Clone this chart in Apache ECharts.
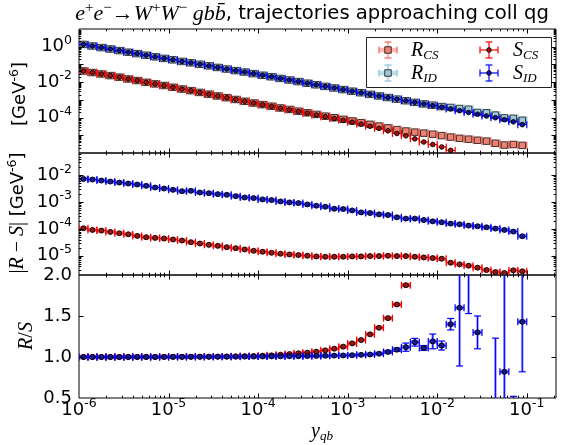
<!DOCTYPE html>
<html><head><meta charset="utf-8">
<script src="https://cdn.jsdelivr.net/npm/echarts@6/dist/echarts.min.js"></script>
<style>html,body{margin:0;padding:0;background:#fff}#c{width:563px;height:445px}</style>
</head><body><div id="c"></div>
<script>
// ---------------- data ----------------
const xCenters = [
 1.122e-6,1.413e-6,1.778e-6,2.239e-6,2.818e-6,3.548e-6,4.467e-6,5.623e-6,7.079e-6,8.913e-6,
 1.122e-5,1.413e-5,1.778e-5,2.239e-5,2.818e-5,3.548e-5,4.467e-5,5.623e-5,7.079e-5,8.913e-5,
 1.122e-4,1.413e-4,1.778e-4,2.239e-4,2.818e-4,3.548e-4,4.467e-4,5.623e-4,7.079e-4,8.913e-4,
 1.122e-3,1.413e-3,1.778e-3,2.239e-3,2.818e-3,3.548e-3,4.467e-3,5.623e-3,7.079e-3,8.913e-3,
 1.122e-2,1.413e-2,1.778e-2,2.239e-2,2.818e-2,3.548e-2,4.467e-2,5.623e-2,7.079e-2,8.913e-2];
const halfBinDecades = 0.05;

const sCS = [0.0427,0.0347,0.0288,0.0234,0.0191,0.0151,0.0123,9.77e-3,7.94e-3,6.46e-3,
 5.13e-3,4.07e-3,3.31e-3,2.63e-3,2.09e-3,1.66e-3,1.32e-3,1.05e-3,8.32e-4,6.61e-4,
 5.25e-4,4.27e-4,3.39e-4,2.75e-4,2.19e-4,1.78e-4,1.41e-4,1.12e-4,8.91e-5,7.08e-5,
 5.50e-5,4.27e-5,3.24e-5,2.45e-5,1.78e-5,1.26e-5,9.33e-6,6.31e-6,4.17e-6,3.02e-6,
 2.19e-6,1.41e-6,7.94e-7,5.01e-7,3.16e-7,2.0e-7,1.26e-7,7.94e-8,5.0e-8,3.16e-8];
const rCS = [0.0427,0.0347,0.0288,0.0234,0.0191,0.0151,0.0123,9.77e-3,7.94e-3,6.46e-3,
 5.13e-3,4.07e-3,3.31e-3,2.63e-3,2.09e-3,1.66e-3,1.32e-3,1.05e-3,8.32e-4,6.61e-4,
 5.37e-4,4.37e-4,3.47e-4,2.88e-4,2.29e-4,1.86e-4,1.51e-4,1.20e-4,9.77e-5,7.94e-5,
 6.46e-5,5.13e-5,4.17e-5,3.31e-5,2.63e-5,2.09e-5,1.74e-5,1.51e-5,1.32e-5,1.15e-5,
 9.55e-6,7.94e-6,6.76e-6,6.03e-6,5.25e-6,4.68e-6,3.55e-6,2.82e-6,3.02e-6,2.69e-6];
const sID = [1.35,1.10,0.891,0.741,0.603,0.490,0.407,0.331,0.269,0.219,
 0.182,0.148,0.123,0.102,0.0832,0.0676,0.0550,0.0447,0.0372,0.0302,
 0.0245,0.0200,0.0162,0.0132,0.0107,8.71e-3,7.08e-3,5.75e-3,4.68e-3,3.80e-3,
 3.09e-3,2.51e-3,2.04e-3,1.66e-3,1.35e-3,1.10e-3,8.91e-4,7.24e-4,5.89e-4,4.79e-4,
 3.89e-4,3.09e-4,2.45e-4,1.95e-4,1.55e-4,1.23e-4,9.77e-5,7.59e-5,5.75e-5,3.98e-5];
const rID = [1.35,1.10,0.891,0.741,0.603,0.490,0.407,0.331,0.269,0.219,
 0.182,0.148,0.123,0.102,0.0832,0.0676,0.0550,0.0447,0.0372,0.0302,
 0.0245,0.0200,0.0162,0.0132,0.0107,8.71e-3,7.08e-3,5.75e-3,4.68e-3,3.80e-3,
 3.09e-3,2.51e-3,2.04e-3,1.66e-3,1.35e-3,1.10e-3,8.91e-4,7.24e-4,5.89e-4,5.01e-4,
 4.17e-4,3.72e-4,3.24e-4,2.95e-4,1.95e-4,1.86e-4,1.38e-4,9.55e-5,9.12e-5,7.08e-5];

const dCS = [1.06e-4,9.18e-5,8.67e-5,7.74e-5,6.91e-5,6.34e-5,5.51e-5,4.91e-5,4.64e-5,4.38e-5,
 4.03e-5,3.70e-5,3.21e-5,2.86e-5,2.55e-5,2.34e-5,2.09e-5,1.92e-5,1.72e-5,1.53e-5,
 1.41e-5,1.29e-5,1.19e-5,1.12e-5,1.06e-5,1.00e-5,9.45e-6,9.18e-6,9.18e-6,9.18e-6,
 9.45e-6,9.45e-6,9.73e-6,9.73e-6,1.00e-5,9.73e-6,9.73e-6,9.18e-6,8.67e-6,8.20e-6,
 7.74e-6,5.51e-6,4.78e-6,4.26e-6,3.60e-6,2.94e-6,2.48e-6,2.28e-6,2.86e-6,2.63e-6];
const dID = [7.31e-3,6.92e-3,6.34e-3,5.82e-3,5.35e-3,4.91e-3,4.51e-3,4.03e-3,3.49e-3,3.21e-3,
 2.86e-3,2.55e-3,2.63e-3,2.28e-3,2.15e-3,1.98e-3,1.87e-3,1.67e-3,1.49e-3,1.41e-3,
 1.26e-3,1.19e-3,1.06e-3,9.72e-4,9.18e-4,8.20e-4,7.31e-4,6.71e-4,5.66e-4,5.51e-4,
 4.91e-4,4.14e-4,3.92e-4,3.49e-4,3.30e-4,2.71e-4,2.42e-4,2.42e-4,2.15e-4,1.92e-4,
 1.77e-4,1.58e-4,1.49e-4,1.33e-4,1.26e-4,1.15e-4,1.03e-4,9.18e-5,7.96e-5,5.35e-5];

const ratioCS = [1.000,1.000,1.000,1.000,1.000,1.001,1.001,1.001,1.001,1.002,
 1.002,1.002,1.003,1.003,1.004,1.005,1.006,1.008,1.010,1.012,
 1.016,1.020,1.028,1.036,1.045,1.053,1.065,1.081,1.101,1.126,
 1.166,1.207,1.276,1.357,1.474,1.640,1.876,2.30,2.90,3.50,
 4.20,5.30,7.50,10.5,14.0,18.0,22.0,26.0,30.0,34.0];
const ratioCSErr = [0.002,0.002,0.002,0.002,0.002,0.002,0.002,0.002,0.002,0.002,
 0.002,0.002,0.002,0.002,0.002,0.002,0.002,0.002,0.002,0.002,
 0.003,0.003,0.003,0.003,0.003,0.003,0.003,0.004,0.004,0.004,
 0.005,0.005,0.006,0.006,0.008,0.010,0.015,0.03,0.05,0.08,
 0.1,0.2,0.4,0.8,1.0,1.5,2.0,2.5,3.0,3.5];
const ratioID = [1.000,1.000,1.000,1.000,1.000,1.000,1.001,1.001,1.001,1.001,
 1.002,1.002,1.002,1.003,1.003,1.003,1.004,1.004,1.005,1.005,
 1.006,1.007,1.008,1.009,1.010,1.011,1.013,1.015,1.017,1.019,
 1.022,1.026,1.031,1.040,1.062,1.089,1.120,1.180,1.110,1.190,
 1.140,1.400,1.600,2.300,1.300,2.600,0.200,0.820,0.300,1.430];
const ratioIDErr = [0.003,0.003,0.003,0.003,0.003,0.003,0.003,0.003,0.003,0.003,
 0.003,0.003,0.003,0.003,0.003,0.003,0.003,0.003,0.003,0.003,
 0.003,0.003,0.003,0.003,0.003,0.003,0.003,0.003,0.003,0.004,
 0.005,0.005,0.006,0.008,0.012,0.020,0.050,0.047,0.030,0.090,
 0.055,0.070,0.710,0.770,0.200,0.400,1.030,1.400,0.220,0.610];

const xTickExps = [-6,-5,-4,-3,-2,-1];
const topLabelExps = [0,-2,-4];
const midLabelExps = [-2,-3,-4,-5];
const ratioTickLabels = [0.5,1.0,1.5,2.0];

// ---------------- layout / style ----------------
const SANS = 'DejaVu Sans', SERIF = 'Liberation Serif';
const X_MIN = 1e-6, X_MAX = 0.212;
const yRanges = [[1e-6, 10], [1.92e-6, 0.0676], [0.5, 2.0]];
const gridPos = [
  {left:79, right:7, top:29, height:124},
  {left:79, right:7, top:153, height:122},
  {left:79, right:7, top:275, height:123}];

const ST = {
  rCS:{thick:'rgba(250,128,114,0.55)',thickW:4.5,thin:null,thinW:1,cap:'rgba(240,110,100,0.85)',capW:1.5,capLen:4,marker:'rect',size:6.5,fill:'#f08070',stroke:'#222'},
  sCS:{thick:null,thickW:0,thin:'#ff0000',thinW:1.2,cap:'#ff0000',capW:1.2,capLen:3.5,marker:'circle',size:4.6,fill:'#a01010',stroke:'#000'},
  rID:{thick:'rgba(173,216,230,0.85)',thickW:4.5,thin:null,thinW:1,cap:'rgba(150,200,220,0.9)',capW:1.5,capLen:4,marker:'rect',size:6.5,fill:'#9cc8d8',stroke:'#222'},
  sID:{thick:null,thickW:0,thin:'#0000ff',thinW:1.2,cap:'#0000ff',capW:1.2,capLen:3.5,marker:'circle',size:4.6,fill:'#1010a0',stroke:'#000'},
  dCS:{thick:'rgba(255,0,0,0.42)',thickW:4.5,thin:'#ff0000',thinW:1,cap:'#ff0000',capW:1.2,capLen:3.5,marker:'circle',size:5,fill:'#901818',stroke:'#000'},
  dID:{thick:'rgba(0,0,255,0.45)',thickW:4.5,thin:'#0000ff',thinW:1,cap:'#0000ff',capW:1.2,capLen:3.5,marker:'circle',size:5,fill:'#181890',stroke:'#000'}
};

function seg(x1,y1,x2,y2,color,w,z){const o={type:'line',silent:true,shape:{x1:x1,y1:y1,x2:x2,y2:y2},style:{stroke:color,lineWidth:w,lineCap:'butt'}}; if(z!=null)o.z=z; return o;}
function markerEl(st,cx,cy,z){
  let o;
  if(st.marker==='rect'){const s=st.size;o={type:'rect',silent:true,shape:{x:cx-s/2,y:cy-s/2,width:s,height:s},style:{fill:st.fill,stroke:st.stroke,lineWidth:0.9}};}
  else o={type:'circle',silent:true,shape:{cx:cx,cy:cy,r:st.size/2},style:{fill:st.fill,stroke:st.stroke,lineWidth:0.9}};
  if(z!=null)o.z=z; return o;
}

function makeRender(st, logY){
  return function(params, api){
    const cs = params.coordSys;
    const T = cs.y, B = cs.y + cs.height;
    const x = api.value(0), y = api.value(1), e = api.value(2), lo = api.value(3), hi = api.value(4);
    const kids = [];
    const c = api.coord([x, y]);
    const xl = api.coord([lo, y])[0], xh = api.coord([hi, y])[0];
    if (e > 0) {
      const yt = api.coord([x, y + e])[1];
      const yb = (!logY || y - e > 0) ? api.coord([x, y - e])[1] : B + 50;
      const a = Math.max(yt, T), b = Math.min(yb, B);
      if (b > a) {
        if (st.thick) kids.push(seg(c[0], a, c[0], b, st.thick, 2.5));
        if (st.thin) kids.push(seg(c[0], a, c[0], b, st.thin, st.thinW));
      }
      if (yt >= T && yt <= B) kids.push(seg(c[0]-st.capLen, yt, c[0]+st.capLen, yt, st.cap, st.capW));
      if (yb >= T && yb <= B) kids.push(seg(c[0]-st.capLen, yb, c[0]+st.capLen, yb, st.cap, st.capW));
    }
    if (c[1] >= T - 1 && c[1] <= B + 1) {
      if (st.thick) kids.push(seg(xl, c[1], xh, c[1], st.thick, st.thickW));
      if (st.thin) kids.push(seg(xl, c[1], xh, c[1], st.thin, st.thinW));
      kids.push(seg(xl, c[1]-st.capLen, xl, c[1]+st.capLen, st.cap, st.capW));
      kids.push(seg(xh, c[1]-st.capLen, xh, c[1]+st.capLen, st.cap, st.capW));
      kids.push(markerEl(st, c[0], c[1]));
    }
    return {type:'group', children:kids};
  };
}

function errSeries(g, vals, errs, st, logY){
  const f = Math.pow(10, halfBinDecades);
  const data = xCenters.map((x,i)=>[x, vals[i], errs ? errs[i] : 0, x/f, x*f]);
  return {type:'custom', xAxisIndex:g, yAxisIndex:g, data:data, encode:{x:0,y:1},
    renderItem:makeRender(st, logY), clip:true, silent:true, animation:false, z:3};
}

// ticks (major + minor, inward, all four sides)
function tickSeries(g, yTicks, yMinor){
  const yRef = yRanges[g][0]*1.0001, xRef = X_MIN*1.0001;
  const data = [];
  xTickExps.forEach(k=>{ data.push([Math.pow(10,k), yRef, 0, 1]);
    for(let m=2;m<=9;m++){const v=m*Math.pow(10,k); if(v<X_MAX) data.push([v, yRef, 0, 0]);} });
  yTicks.forEach(v=>data.push([xRef, v, 1, 1]));
  yMinor.forEach(v=>data.push([xRef, v, 1, 0]));
  return {type:'custom', xAxisIndex:g, yAxisIndex:g, data:data, encode:{x:0,y:1}, silent:true, animation:false, z:5,
    renderItem:function(params, api){
      const cs = params.coordSys; const L=cs.x, R=cs.x+cs.width, T=cs.y, B=cs.y+cs.height;
      const p = api.coord([api.value(0), api.value(1)]);
      const len = api.value(3) ? 4.5 : 2.3;
      if (api.value(2) === 0) {
        if (p[0] <= L+0.5 || p[0] >= R-0.5) return null;
        const xx = Math.round(p[0])+0.5;
        return {type:'group',children:[seg(xx,B,xx,B-len,'#000',1), seg(xx,T,xx,T+len,'#000',1)]};
      }
      if (p[1] <= T+0.5 || p[1] >= B-0.5) return null;
      const yy = Math.round(p[1])+0.5;
      return {type:'group',children:[seg(L,yy,L+len,yy,'#000',1), seg(R,yy,R-len,yy,'#000',1)]};
    }};
}
const minorFor = (kmin,kmax,lo,hi)=>{const out=[];for(let k=kmin;k<=kmax;k++)for(let m=2;m<=9;m++){const v=m*Math.pow(10,k);if(v>lo&&v<hi)out.push(v);}return out;};
const decades = (kmin,kmax)=>{const o=[];for(let k=kmin;k<=kmax;k++)o.push(Math.pow(10,k));return o;};

const supRich = {
  b:{fontFamily:SANS,fontSize:18,lineHeight:20,color:'#000'},
  s:{fontFamily:SANS,fontSize:12.5,lineHeight:13,padding:[0,0,12,0],color:'#000'}
};
function powLabel(allowed){
  return function(v){
    const l = Math.log10(v), k = Math.round(l);
    if (Math.abs(l-k) > 1e-6 || allowed.indexOf(k) < 0) return '';
    return '{b|10}{s|' + (k<0?'-':'') + Math.abs(k) + '}';
  };
}

const xAxes = [0,1,2].map(g=>({type:'log', logBase:10, gridIndex:g, min:X_MIN, max:X_MAX,
  axisLine:{show:false}, axisTick:{show:false}, splitLine:{show:false}, minorTick:{show:false},
  axisLabel:{show:g===2, interval:0, margin:2, formatter:powLabel(xTickExps), rich:supRich}}));
const yAxes = [
  {type:'log', logBase:10, gridIndex:0, min:yRanges[0][0], max:yRanges[0][1],
   axisLine:{show:false}, axisTick:{show:false}, splitLine:{show:false},
   axisLabel:{interval:0, margin:7, formatter:powLabel(topLabelExps), rich:supRich}},
  {type:'log', logBase:10, gridIndex:1, min:yRanges[1][0], max:yRanges[1][1],
   axisLine:{show:false}, axisTick:{show:false}, splitLine:{show:false},
   axisLabel:{interval:0, margin:7, formatter:powLabel(midLabelExps), rich:supRich}},
  {type:'value', gridIndex:2, min:yRanges[2][0], max:yRanges[2][1], interval:0.5,
   axisLine:{show:false}, axisTick:{show:false}, splitLine:{show:false},
   axisLabel:{interval:0, margin:7, fontFamily:SANS, fontSize:18, color:'#000',
     formatter:v=>ratioTickLabels.some(t=>Math.abs(t-v)<1e-9)?v.toFixed(1):''}}
];

const series = [
  errSeries(0, rCS, null, ST.rCS, true),
  errSeries(0, sCS, null, ST.sCS, true),
  errSeries(0, rID, null, ST.rID, true),
  errSeries(0, sID, null, ST.sID, true),
  errSeries(1, dCS, null, ST.dCS, true),
  errSeries(1, dID, null, ST.dID, true),
  errSeries(2, ratioCS, ratioCSErr, ST.dCS, false),
  errSeries(2, ratioID, ratioIDErr, ST.dID, false),
  tickSeries(0, decades(-5,0), minorFor(-6,0,1e-6,10)),
  tickSeries(1, decades(-5,-2), minorFor(-6,-2,yRanges[1][0],yRanges[1][1])),
  tickSeries(2, [1.0,1.5], [])
];

// ---------------- text / legend graphics ----------------
const mathRich = {
  i:{fontFamily:SERIF,fontStyle:'italic',fontSize:20,lineHeight:24,color:'#000'},
  I:{fontFamily:SERIF,fontStyle:'italic',fontSize:22,lineHeight:26,color:'#000'},
  u:{fontFamily:SERIF,fontSize:20,lineHeight:24,color:'#000'},
  p:{fontFamily:SERIF,fontSize:15,lineHeight:15,padding:[0,0,12,0],color:'#000'},
  sb:{fontFamily:SERIF,fontStyle:'italic',fontSize:13,lineHeight:13,padding:[10,0,0,0],color:'#000'},
  a:{fontFamily:SERIF,fontSize:22,lineHeight:26,color:'#000'},
  t:{fontFamily:SANS,fontSize:18,lineHeight:24,color:'#000'},
  T:{fontFamily:SANS,fontSize:19.6,lineHeight:26,color:'#000'},
  s:{fontFamily:SANS,fontSize:12.5,lineHeight:13,padding:[0,0,11,0],color:'#000'}
};
function txt(x,y,text,opts){
  return Object.assign({type:'text',x:x,y:y,silent:true,z:20,
    style:{text:text,rich:mathRich,align:'center',verticalAlign:'middle'}}, opts||{});
}
function legendIcon(cx,cy,st){
  const kids=[]; const hw=9, vh=8, cap=3.5, z=22;
  if(st.thick){kids.push(seg(cx-hw,cy,cx+hw,cy,st.thick,st.thickW,z)); kids.push(seg(cx,cy-vh,cx,cy+vh,st.thick,2.5,z));}
  if(st.thin){kids.push(seg(cx-hw,cy,cx+hw,cy,st.thin,st.thinW,z)); kids.push(seg(cx,cy-vh,cx,cy+vh,st.thin,st.thinW,z));}
  kids.push(seg(cx-hw,cy-cap,cx-hw,cy+cap,st.cap,st.capW,z));
  kids.push(seg(cx+hw,cy-cap,cx+hw,cy+cap,st.cap,st.capW,z));
  kids.push(seg(cx-cap,cy-vh,cx+cap,cy-vh,st.cap,st.capW,z));
  kids.push(seg(cx-cap,cy+vh,cx+cap,cy+vh,st.cap,st.capW,z));
  kids.push(markerEl(st,cx,cy,z+1));
  return kids;
}
function ltxt(x,y,text){return {type:'text',x:x,y:y,silent:true,z:22,style:{text:text,rich:mathRich,align:'left',verticalAlign:'middle'}};}
const graphic = [
  txt(312, 14, '{I|e}{p|+}{I|e}{p|−}{a|→}{I|W}{p|+}{I|W}{p|−}{I| gbb\u0304}{T|, trajectories approaching coll qg}'),
  txt(20, 94, '{t|[GeV}{s|-6}{t|]}', {rotation:Math.PI/2}),
  txt(18, 213, '{u||}{i|R}{u| − }{i|S}{u||}{t| [GeV}{s|-6}{t|]}', {rotation:Math.PI/2}),
  txt(27, 336, '{i|R}{u|/}{i|S}', {rotation:Math.PI/2}),
  txt(322, 432, '{i|y}{sb|qb}'),
  {type:'rect', z:19, silent:true, shape:{x:366.5,y:37.5,width:185,height:50}, style:{fill:'#fff',stroke:'#222',lineWidth:1}}
].concat(legendIcon(388,50,ST.rCS), legendIcon(388,73,ST.rID), legendIcon(489,50,ST.sCS), legendIcon(489,73,ST.sID), [
  ltxt(411, 51, '{i|R}{sb|CS}'),
  ltxt(411, 74, '{i|R}{sb|ID}'),
  ltxt(513, 51, '{i|S}{sb|CS}'),
  ltxt(513, 74, '{i|S}{sb|ID}')
]);

const chart = echarts.init(document.getElementById('c'), null, {renderer:'canvas', width:563, height:445});
chart.setOption({
  animation:false,
  backgroundColor:'#fff',
  grid: gridPos.map(p=>Object.assign({show:true, borderColor:'#000', borderWidth:1, backgroundColor:'rgba(0,0,0,0)', containLabel:false, outerBoundsMode:'none'}, p)),
  xAxis: xAxes,
  yAxis: yAxes,
  series: series,
  graphic: graphic
});
</script></body></html>
